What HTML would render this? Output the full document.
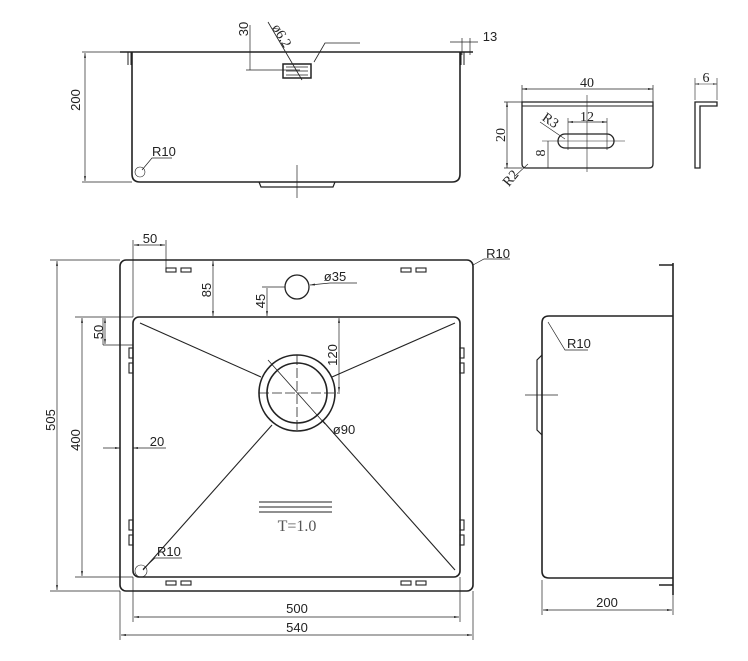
<!DOCTYPE html>
<html><head><meta charset="utf-8"><style>
html,body{margin:0;padding:0;background:#fff}
svg{display:block}
text{font-family:"Liberation Sans",sans-serif;font-size:13px;fill:#222}
.s{font-family:"Liberation Serif",serif;font-size:14px}
</style></head><body>
<svg width="748" height="661" viewBox="0 0 748 661" xmlns="http://www.w3.org/2000/svg">
<defs>
<marker id="a" viewBox="0 0 10 10" refX="10" refY="5" markerWidth="7" markerHeight="7" orient="auto-start-reverse"><path d="M0,3 L10,5 L0,7 z" fill="#222"/></marker>
</defs>
<g fill="none" stroke="#222" stroke-width="1">
<!-- TOP VIEW -->
<line x1="120" y1="52" x2="473" y2="52" stroke-width="1.6"/>
<path d="M132,52 V174 Q132,182 140,182 H452 Q460,182 460,174 V52" stroke-width="1.6"/>
<path d="M128,52 V65 M131,52 V65 M461,52 V65 M464,52 V65"/>
<line x1="82" y1="52" x2="120" y2="52" stroke-width="0.7"/>
<line x1="82" y1="182" x2="132" y2="182" stroke-width="0.7"/>
<line x1="85" y1="53" x2="85" y2="181" marker-start="url(#a)" marker-end="url(#a)" stroke-width="0.7"/>
<path d="M259,182 L261,187 H333 L335,182" stroke-width="1.2"/>
<line x1="297" y1="165" x2="297" y2="198" stroke-width="0.7"/>
<line x1="250" y1="25" x2="250" y2="70" stroke-width="0.7"/>
<line x1="246" y1="70" x2="300" y2="70" stroke-width="0.7"/>
<rect x="283" y="64" width="28" height="14" stroke-width="1.5"/>
<path d="M286,67 H308 M286,71 H308 M286,75 H308" stroke-width="0.8"/>
<line x1="268" y1="22" x2="302" y2="80" stroke-width="0.8"/>
<path d="M314,62 L325,43 H360" stroke-width="0.8"/>
<path d="M450,42 H470 M462,38 V55 M470,38 V55 M470,42 H478" stroke-width="0.7"/>
<path d="M142,170 L152,158 H172" stroke-width="0.7"/>
<circle cx="140" cy="172" r="5" stroke-width="0.6"/>

<!-- BRACKET -->
<path d="M522,102 H653 V164 Q653,168 649,168 H526 Q522,168 522,164 Z" stroke-width="1.3"/>
<line x1="522" y1="106" x2="653" y2="106"/>
<line x1="522" y1="89" x2="653" y2="89" marker-start="url(#a)" marker-end="url(#a)" stroke-width="0.7"/>
<path d="M522,85 V102 M653,85 V102" stroke-width="0.7"/>
<line x1="507" y1="102" x2="507" y2="168" marker-start="url(#a)" marker-end="url(#a)" stroke-width="0.7"/>
<path d="M504,102 H522 M504,168 H522" stroke-width="0.7"/>
<rect x="558" y="134" width="56" height="14" rx="7" stroke-width="1.3"/>
<line x1="587" y1="95" x2="587" y2="172" stroke-width="0.6"/>
<line x1="542" y1="141" x2="625" y2="141" stroke-width="0.6"/>
<line x1="568" y1="122" x2="607" y2="122" marker-start="url(#a)" marker-end="url(#a)" stroke-width="0.7"/>
<path d="M568,118 V150 M607,118 V150" stroke-width="0.6"/>
<line x1="548" y1="141" x2="548" y2="168" stroke-width="0.7"/>
<line x1="540" y1="122" x2="565" y2="139" stroke-width="0.6"/>
<line x1="515" y1="176" x2="528" y2="164" stroke-width="0.6"/>
<path d="M695,102 H717 V106 H700 V168 H695 Z" stroke-width="1.3"/>
<path d="M695,78 V100 M717,78 V100" stroke-width="0.6"/>
<line x1="695" y1="84" x2="717" y2="84" marker-start="url(#a)" marker-end="url(#a)" stroke-width="0.6"/>

<!-- PLAN VIEW -->
<rect x="120" y="260" width="353" height="331" rx="6" stroke-width="1.6"/>
<rect x="133" y="317" width="327" height="260" rx="6" stroke-width="1.6"/>
<circle cx="297" cy="393" r="38" stroke-width="1.6"/>
<circle cx="297" cy="393" r="30" stroke-width="1.6"/>
<path d="M297,355 V431 M259,393 H340" stroke-width="0.8" stroke-dasharray="10,3"/>
<line x1="268" y1="360" x2="325" y2="424" stroke-width="0.8"/>
<circle cx="297" cy="287" r="12" stroke-width="1.3"/>
<line x1="140" y1="323" x2="261" y2="377" stroke-width="1.1"/>
<line x1="455" y1="323" x2="332" y2="377" stroke-width="1.1"/>
<line x1="143" y1="570" x2="272" y2="425" stroke-width="1.1"/>
<line x1="455" y1="570" x2="322" y2="420" stroke-width="1.1"/>
<g stroke-width="1.1">
<rect x="166" y="268" width="10" height="4"/><rect x="181" y="268" width="10" height="4"/>
<rect x="401" y="268" width="10" height="4"/><rect x="416" y="268" width="10" height="4"/>
<rect x="166" y="581" width="10" height="4"/><rect x="181" y="581" width="10" height="4"/>
<rect x="401" y="581" width="10" height="4"/><rect x="416" y="581" width="10" height="4"/>
<rect x="129" y="348" width="4" height="10"/><rect x="129" y="363" width="4" height="10"/>
<rect x="460" y="348" width="4" height="10"/><rect x="460" y="363" width="4" height="10"/>
<rect x="129" y="520" width="4" height="10"/><rect x="129" y="535" width="4" height="10"/>
<rect x="460" y="520" width="4" height="10"/><rect x="460" y="535" width="4" height="10"/>
</g>
<path d="M50,260 H120 M75,317 H133 M75,577 H133 M50,591 H120" stroke-width="0.7"/>
<line x1="57" y1="261" x2="57" y2="590" marker-start="url(#a)" marker-end="url(#a)" stroke-width="0.7"/>
<line x1="82" y1="318" x2="82" y2="576" marker-start="url(#a)" marker-end="url(#a)" stroke-width="0.7"/>
<path d="M133,240 V317 M166,240 V268" stroke-width="0.7"/>
<line x1="134" y1="245" x2="165" y2="245" marker-start="url(#a)" marker-end="url(#a)" stroke-width="0.7"/>
<line x1="213" y1="261" x2="213" y2="316" marker-start="url(#a)" marker-end="url(#a)" stroke-width="0.7"/>
<line x1="267" y1="288" x2="267" y2="316" marker-end="url(#a)" stroke-width="0.7"/>
<line x1="262" y1="287" x2="285" y2="287" stroke-width="0.7"/>
<line x1="330" y1="283" x2="310" y2="285" marker-end="url(#a)" stroke-width="0.7"/>
<line x1="330" y1="283" x2="357" y2="283" stroke-width="0.7"/>
<line x1="339" y1="318" x2="339" y2="392" marker-start="url(#a)" marker-end="url(#a)" stroke-width="0.7"/>
<path d="M103,345 H133 M103,318 V345" stroke-width="0.7"/>
<line x1="105" y1="318" x2="105" y2="344" marker-start="url(#a)" marker-end="url(#a)" stroke-width="0.7"/>
<line x1="103" y1="448" x2="120" y2="448" marker-end="url(#a)" stroke-width="0.7"/>
<line x1="166" y1="448" x2="133" y2="448" marker-end="url(#a)" stroke-width="0.7"/>
<path d="M259,502 H332 M259,507 H332 M259,512 H332" stroke-width="1"/>
<path d="M143,569 L155,558 H182" stroke-width="0.7"/>
<circle cx="141" cy="571" r="6" stroke-width="0.6"/>
<path d="M473,265 L484,259 H510" stroke-width="0.7"/>
<path d="M133,577 V622 M460,577 V622 M120,591 V640 M473,591 V640" stroke-width="0.7"/>
<line x1="134" y1="617" x2="459" y2="617" marker-start="url(#a)" marker-end="url(#a)" stroke-width="0.7"/>
<line x1="121" y1="635" x2="472" y2="635" marker-start="url(#a)" marker-end="url(#a)" stroke-width="0.7"/>

<!-- SIDE VIEW -->
<path d="M673,316 H549 Q542,316 542,323 V571 Q542,578 549,578 H673" stroke-width="1.6"/>
<line x1="673" y1="263" x2="673" y2="595" stroke-width="1.6"/>
<path d="M659,265 H673 M659,585 H673" stroke-width="1.6"/>
<path d="M542,355 L537,360 V430 L542,435" stroke-width="1.2"/>
<line x1="525" y1="395" x2="558" y2="395" stroke-width="0.7"/>
<path d="M548,322 L565,350 H588" stroke-width="0.7"/>
<path d="M542,580 V615 M673,595 V615" stroke-width="0.7"/>
<line x1="543" y1="610" x2="672" y2="610" marker-start="url(#a)" marker-end="url(#a)" stroke-width="0.7"/>
</g>

<!-- TEXT -->
<text transform="translate(80,100) rotate(-90)" text-anchor="middle">200</text>
<text transform="translate(248,29) rotate(-90)" text-anchor="middle">30</text>
<text class="s" transform="translate(278,38) rotate(60)" text-anchor="middle">ø6.2</text>
<text x="490" y="41" text-anchor="middle">13</text>
<text x="152" y="156">R10</text>
<text class="s" x="587" y="87" text-anchor="middle">40</text>
<text class="s" x="587" y="121" text-anchor="middle">12</text>
<text class="s" transform="translate(505,135) rotate(-90)" text-anchor="middle">20</text>
<text class="s" transform="translate(545,153) rotate(-90)" text-anchor="middle">8</text>
<text class="s" transform="translate(548,124) rotate(35)" text-anchor="middle">R3</text>
<text class="s" transform="translate(514,181) rotate(-50)" text-anchor="middle">R2</text>
<text class="s" x="706" y="82" text-anchor="middle">6</text>
<text x="150" y="243" text-anchor="middle">50</text>
<text x="510" y="258" text-anchor="end">R10</text>
<text x="335" y="281" text-anchor="middle">ø35</text>
<text transform="translate(211,290) rotate(-90)" text-anchor="middle">85</text>
<text transform="translate(265,301) rotate(-90)" text-anchor="middle">45</text>
<text transform="translate(103,332) rotate(-90)" text-anchor="middle">50</text>
<text transform="translate(337,355) rotate(-90)" text-anchor="middle">120</text>
<text transform="translate(55,420) rotate(-90)" text-anchor="middle">505</text>
<text transform="translate(80,440) rotate(-90)" text-anchor="middle">400</text>
<text x="157" y="446" text-anchor="middle">20</text>
<text x="344" y="434" text-anchor="middle">ø90</text>
<text class="s" x="297" y="531" text-anchor="middle" style="font-size:16px;fill:#555">T=1.0</text>
<text x="157" y="556">R10</text>
<text x="297" y="613" text-anchor="middle">500</text>
<text x="297" y="632" text-anchor="middle">540</text>
<text x="567" y="348">R10</text>
<text x="607" y="607" text-anchor="middle">200</text>
</svg>
</body></html>
